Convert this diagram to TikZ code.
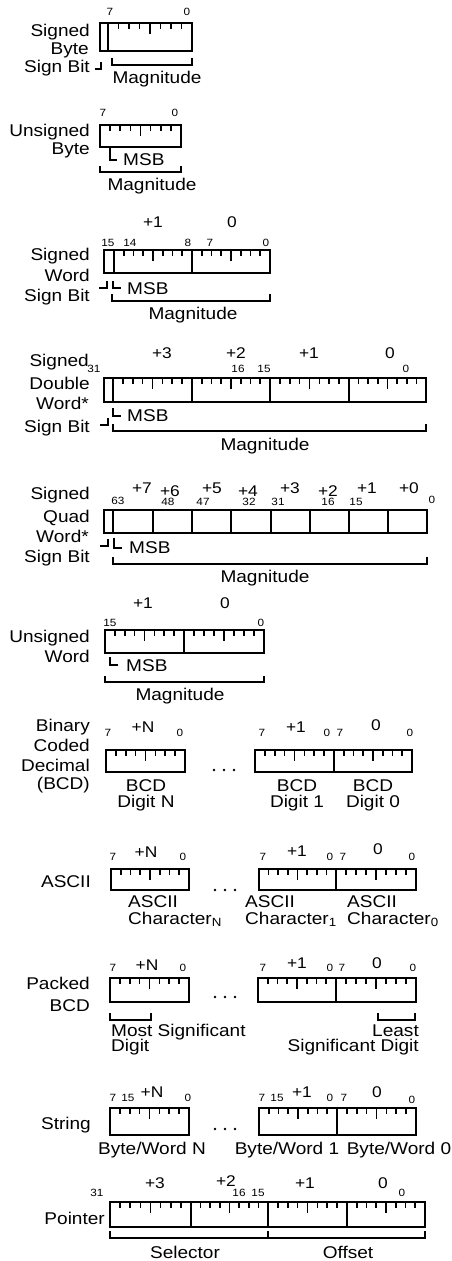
\documentclass[tikz,border=0pt]{standalone}
\usepackage{fontspec}
\setmainfont{Liberation Sans}[FakeStretch=1.12]
\newcommand\byteticks[3]{%
  \foreach \k in {1,...,7}{%
    \pgfmathsetmacro\tx{#1+(#2-#1)*\k/8}%
    \pgfmathsetmacro\tl{ifthenelse(\k==4,11,5.5)}%
    \draw[tick] (\tx,#3) -- ++(0,\tl);}}
\tikzset{
  frame/.style={line width=2.8pt},
  divl/.style={line width=2pt},
  tick/.style={line width=1.6pt},
  brk/.style={line width=1.6pt},
  lab/.style={inner sep=0pt, font=\fontsize{17}{18}\selectfont, text height=12pt, text depth=3.5pt},
  rl/.style={lab, anchor=east},
  ll/.style={lab, anchor=west},
  off/.style={inner sep=0pt, font=\fontsize{15.5}{16}\selectfont},
  bit/.style={inner sep=0pt, font=\fontsize{10.5}{11}\selectfont},
  dot/.style={fill, circle, inner sep=0pt, minimum size=2.8pt},
}
\begin{document}
\begin{tikzpicture}[x=1pt, y=-1pt]
\useasboundingbox[fill=white] (0,0) rectangle (452,1261);

% ---------- Signed Byte
\draw[frame] (100,23) rectangle (192,51);
\draw[divl] (108,23) -- (108,51);
\byteticks{108}{192}{23}
\node[bit] (sb7) at (110,12) {7};
\node[bit] (sb0) at (187,12) {0};
\node[rl] (sbA) at (90,32) {Signed};
\node[rl] (sbB) at (89,50) {Byte};
\node[rl] (sbC) at (90,68) {Sign Bit};
\draw[brk] (95,69) -- (101,69) -- (101,62);
\draw[brk] (112,58) -- (112,65) -- (192,65) -- (192,58);
\node[lab] (sbM) at (157,79) {Magnitude};

% ---------- Unsigned Byte
\draw[frame] (100,125) rectangle (181,147);
\byteticks{100}{181}{125}
\node[bit] (ub7) at (103,113) {7};
\node[bit] (ub0) at (175,113) {0};
\node[rl] (ubA) at (90,132) {Unsigned};
\node[rl] (ubB) at (90,150) {Byte};
\draw[brk] (110,148) -- (110,160) -- (117,160);
\node[ll] (ubS) at (123,161) {MSB};
\draw[brk] (100,166) -- (100,172) -- (181,172) -- (181,166);
\node[lab] (ubM) at (152,186) {Magnitude};

% ---------- Signed Word
\draw[frame] (104,250) rectangle (270,273);
\draw[divl] (114,250) -- (114,273);
\draw[divl] (192,250) -- (192,273);
\byteticks{114}{192}{250}
\byteticks{192}{270}{250}
\node[off] (swo1) at (153,222) {+1};
\node[off] (swo0) at (232,222) {0};
\node[bit] (swb15) at (108,243) {15};
\node[bit] (swb14) at (130,243) {14};
\node[bit] (swb8) at (188,243) {8};
\node[bit] (swb7) at (210,243) {7};
\node[bit] (swb0) at (266,243) {0};
\node[rl] (swA) at (90,256) {Signed};
\node[rl] (swB) at (90,277) {Word};
\node[rl] (swC) at (90,297) {Sign Bit};
\draw[brk] (99,288) -- (107,288) -- (107,281);
\draw[brk] (113,281) -- (113,288) -- (121,288);
\node[ll] (swS) at (127,290) {MSB};
\draw[brk] (112,294) -- (112,301) -- (270,301) -- (270,294);
\node[lab] (swM) at (193,315) {Magnitude};

% ---------- Signed Double Word
\draw[frame] (104,378) rectangle (426,402);
\foreach \d in {113,192,270,349} \draw[divl] (\d,378) -- (\d,402);
\byteticks{113}{192}{378}
\byteticks{192}{270}{378}
\byteticks{270}{349}{378}
\byteticks{349}{426}{378}
\node[off] (dwo3) at (162,353) {+3};
\node[off] (dwo2) at (236,353) {+2};
\node[off] (dwo1) at (309,353) {+1};
\node[off] (dwo0) at (390,353) {0};
\node[rl] (dwA) at (89,362) {Signed};
\node[bit] (dwb31) at (94,369) {31};
\node[bit] (dwb16) at (238,369) {16};
\node[bit] (dwb15) at (264,369) {15};
\node[bit] (dwb0) at (406,369) {0};
\node[rl] (dwB) at (90,385) {Double};
\node[rl] (dwC) at (89,405) {Word*};
\node[rl] (dwD) at (90,428) {Sign Bit};
\draw[brk] (100,425) -- (108,425) -- (108,418);
\draw[brk] (113,408) -- (113,416) -- (121,416);
\node[ll] (dwS) at (127,417) {MSB};
\draw[brk] (113,424) -- (113,431) -- (426,431) -- (426,424);
\node[lab] (dwM) at (265,446) {Magnitude};

% ---------- Signed Quad Word
\draw[frame] (104,510) rectangle (427,533);
\foreach \d in {113,153,192,231,271,310,349,388} \draw[divl] (\d,510) -- (\d,533);
\node[off] (qo7) at (142,488) {+7};
\node[off] (qo6) at (170,491) {+6};
\node[off] (qo5) at (212,488) {+5};
\node[off] (qo4) at (248,491) {+4};
\node[off] (qo3) at (290,488) {+3};
\node[off] (qo2) at (328,491) {+2};
\node[off] (qo1) at (367,488) {+1};
\node[off] (qo0) at (409,488) {+0};
\node[bit] (qb63) at (118,501) {63};
\node[bit] (qb48) at (168,502) {48};
\node[bit] (qb47) at (203,502) {47};
\node[bit] (qb32) at (249,502) {32};
\node[bit] (qb31) at (278,502) {31};
\node[bit] (qb16) at (328,502) {16};
\node[bit] (qb15) at (356,502) {15};
\node[bit] (qb0) at (432,500) {0};
\node[rl] (qA) at (90,495) {Signed};
\node[rl] (qB) at (90,518) {Quad};
\node[rl] (qC) at (89,538) {Word*};
\node[rl] (qD) at (90,558) {Sign Bit};
\draw[brk] (100,546) -- (108,546) -- (108,539);
\draw[brk] (114,538) -- (114,548) -- (122,548);
\node[ll] (qS) at (129,549) {MSB};
\draw[brk] (113,557) -- (113,564) -- (427,564) -- (427,557);
\node[lab] (qM) at (265,578) {Magnitude};

% ---------- Unsigned Word
\draw[frame] (105,630) rectangle (264,653);
\draw[divl] (184,630) -- (184,653);
\byteticks{105}{184}{630}
\byteticks{184}{264}{630}
\node[off] (uwo1) at (143,603) {+1};
\node[off] (uwo0) at (225,603) {0};
\node[bit] (uwb15) at (110,623) {15};
\node[bit] (uwb0) at (261,623) {0};
\node[rl] (uwA) at (90,638) {Unsigned};
\node[rl] (uwB) at (90,658) {Word};
\draw[brk] (110,657) -- (110,665) -- (118,665);
\node[ll] (uwS) at (126,667) {MSB};
\draw[brk] (105,676) -- (105,682) -- (264,682) -- (264,676);
\node[lab] (uwM) at (180,696) {Magnitude};

% ---------- BCD
\draw[frame] (106,750) rectangle (185,772);
\byteticks{106}{185}{750}
\draw[frame] (255,750) rectangle (412,772);
\draw[divl] (334,750) -- (334,772);
\byteticks{255}{334}{750}
\byteticks{334}{412}{750}
\node[bit] (bc7a) at (108,733) {7};
\node[off] (bcN) at (143,727) {+N};
\node[bit] (bc0a) at (180,733) {0};
\node[bit] (bc7b) at (262,733) {7};
\node[off] (bc1) at (296,727) {+1};
\node[bit] (bc0b) at (327,733) {0};
\node[bit] (bc7c) at (340,733) {7};
\node[off] (bc0) at (376,725) {0};
\node[bit] (bc0c) at (410,733) {0};
\node[dot] (bcd1) at (214,770) {};
\node[dot] (bcd2) at (224,770) {};
\node[dot] (bcd3) at (234,770) {};
\node[rl] (bcA) at (90,727) {Binary};
\node[rl] (bcB) at (90,747) {Coded};
\node[rl] (bcC) at (90,767) {Decimal};
\node[rl] (bcD) at (90,785) {(BCD)};
\node[lab] (bcL1) at (146,787) {BCD};
\node[lab] (bcL2) at (146,803) {Digit N};
\node[lab] (bcL3) at (297,787) {BCD};
\node[lab] (bcL4) at (297,803) {Digit 1};
\node[lab] (bcL5) at (373,787) {BCD};
\node[lab] (bcL6) at (373,803) {Digit 0};

% ---------- ASCII
\draw[frame] (111,869) rectangle (189,890);
\byteticks{111}{189}{869}
\draw[frame] (259,869) rectangle (416,890);
\draw[divl] (336,869) -- (336,890);
\byteticks{259}{336}{869}
\byteticks{336}{416}{869}
\node[bit] (as7a) at (113,857) {7};
\node[off] (asN) at (146,852) {+N};
\node[bit] (as0a) at (183,857) {0};
\node[bit] (as7b) at (263,857) {7};
\node[off] (as1) at (297,851) {+1};
\node[bit] (as0b) at (330,857) {0};
\node[bit] (as7c) at (343,857) {7};
\node[off] (as0) at (378,849) {0};
\node[bit] (as0c) at (412,857) {0};
\node[dot] (asd1) at (215,890) {};
\node[dot] (asd2) at (225,890) {};
\node[dot] (asd3) at (235,890) {};
\node[rl] (asA) at (91,883) {ASCII};
\node[ll] (asL1) at (128,903) {ASCII};
\node[ll] (asL2) at (128,920) {Character\textsubscript{N}};
\node[ll] (asL3) at (245,903) {ASCII};
\node[ll] (asL4) at (245,920) {Character\textsubscript{1}};
\node[ll] (asL5) at (347,903) {ASCII};
\node[ll] (asL6) at (347,920) {Character\textsubscript{0}};

% ---------- Packed BCD
\draw[frame] (110,978) rectangle (189,1002);
\byteticks{110}{189}{978}
\draw[frame] (258,978) rectangle (416,1002);
\draw[divl] (336,978) -- (336,1002);
\byteticks{258}{336}{978}
\byteticks{336}{416}{978}
\node[bit] (pb7a) at (113,968) {7};
\node[off] (pbN) at (147,965) {+N};
\node[bit] (pb0a) at (183,968) {0};
\node[bit] (pb7b) at (263,968) {7};
\node[off] (pb1) at (297,963) {+1};
\node[bit] (pb0b) at (330,968) {0};
\node[bit] (pb7c) at (342,968) {7};
\node[off] (pb0) at (377,963) {0};
\node[bit] (pb0c) at (413,968) {0};
\node[dot] (pbd1) at (215,997) {};
\node[dot] (pbd2) at (225,997) {};
\node[dot] (pbd3) at (235,997) {};
\node[rl] (pbA) at (90,985) {Packed};
\node[rl] (pbB) at (90,1007) {BCD};
\draw[brk] (110,1013) -- (110,1020) -- (151,1020) -- (151,1013);
\draw[brk] (378,1013) -- (378,1020) -- (415,1020) -- (415,1013);
\node[ll] (pbL1) at (111,1032) {Most Significant};
\node[ll] (pbL2) at (111,1047) {Digit};
\node[rl] (pbL3) at (419,1032) {Least};
\node[rl] (pbL4) at (419,1047) {Significant Digit};

% ---------- String
\draw[frame] (110,1108) rectangle (189,1135);
\byteticks{110}{189}{1108}
\draw[frame] (259,1108) rectangle (416,1135);
\draw[divl] (337,1108) -- (337,1135);
\byteticks{259}{337}{1108}
\byteticks{337}{416}{1108}
\node[bit] (st7a) at (113,1098) {7};
\node[bit] (st15a) at (128,1098) {15};
\node[off] (stN) at (152,1092) {+N};
\node[bit] (st0a) at (188,1098) {0};
\node[bit] (st7b) at (262,1098) {7};
\node[bit] (st15b) at (277,1098) {15};
\node[off] (st1) at (302,1092) {+1};
\node[bit] (st0b) at (330,1098) {0};
\node[bit] (st7c) at (344,1098) {7};
\node[off] (st0) at (377,1092) {0};
\node[bit] (st0c) at (412,1100) {0};
\node[dot] (std1) at (215,1129) {};
\node[dot] (std2) at (225,1129) {};
\node[dot] (std3) at (235,1129) {};
\node[rl] (stA) at (91,1125) {String};
\node[lab] (stL1) at (152,1150) {Byte/Word N};
\node[lab] (stL2) at (287,1150) {Byte/Word 1};
\node[lab] (stL3) at (399,1150) {Byte/Word 0};

% ---------- Pointer
\draw[frame] (110,1202) rectangle (425,1227);
\foreach \d in {191,268,347} \draw[divl] (\d,1202) -- (\d,1227);
\byteticks{110}{191}{1202}
\byteticks{191}{268}{1202}
\byteticks{268}{347}{1202}
\byteticks{347}{425}{1202}
\node[bit] (pt31) at (97,1193) {31};
\node[off] (pto3) at (155,1183) {+3};
\node[off] (pto2) at (226,1181) {+2};
\node[bit] (pt16) at (239,1193) {16};
\node[bit] (pt15) at (258,1193) {15};
\node[off] (pto1) at (305,1183) {+1};
\node[off] (pto0) at (383,1183) {0};
\node[bit] (pt0) at (402,1193) {0};
\node[rl] (ptA) at (105,1220) {Pointer};
\draw[brk] (110,1231) -- (110,1238) -- (425,1238) -- (425,1231);
\draw[brk] (268,1231) -- (268,1238);
\node[lab] (ptL1) at (185,1254) {Selector};
\node[lab] (ptL2) at (348,1254) {Offset};
\end{tikzpicture}
\end{document}
